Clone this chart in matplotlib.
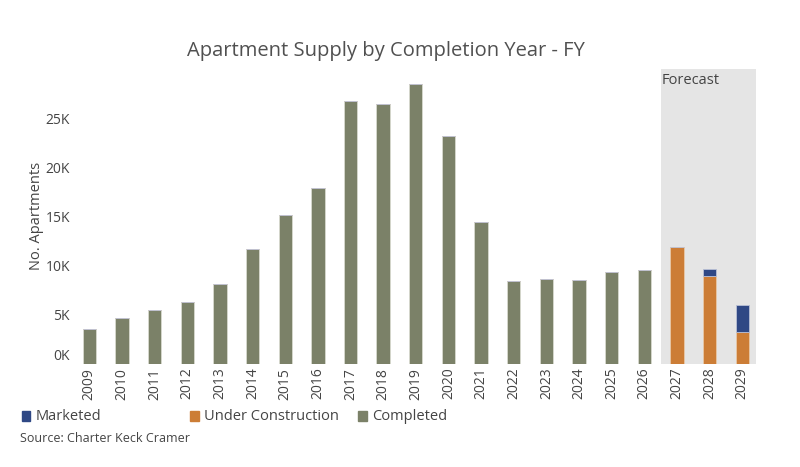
import matplotlib
matplotlib.use("Agg")
import matplotlib.pyplot as plt
import numpy as np

plt.rcParams['font.family'] = ['Open Sans', 'DejaVu Sans']

years = ['2009', '2010', '2011', '2012', '2013', '2014', '2015', '2016', '2017', '2018',
         '2019', '2020', '2021', '2022', '2023', '2024', '2025', '2026', '2027', '2028', '2029']
completed = [3.5, 4.6, 5.5, 6.3, 8.1, 11.7, 15.1, 17.9, 26.7, 26.4,
             28.5, 23.2, 14.4, 8.4, 8.6, 8.5, 9.3, 9.5, 0, 0, 0]
under_construction = [0, 0, 0, 0, 0, 0, 0, 0, 0, 0,
                      0, 0, 0, 0, 0, 0, 0, 0, 11.9, 8.9, 3.2]
marketed = [0, 0, 0, 0, 0, 0, 0, 0, 0, 0,
            0, 0, 0, 0, 0, 0, 0, 0, 0, 0.7, 2.8]
yticks = [0, 5, 10, 15, 20, 25]
ytick_labels = ['0K', '5K', '10K', '15K', '20K', '25K']

GREEN = '#7b8168'
ORANGE = '#cc7d36'
BLUE = '#2f4885'
TXT = '#444444'

fig = plt.figure(figsize=(8, 4.67), dpi=100)
ax = fig.add_axes([0.0945, 0.2216, 0.8505, 0.6304])

x = np.arange(len(years))
w = 0.41
comp = np.array(completed)
uc = np.array(under_construction)
mk = np.array(marketed)

# forecast shading
ax.axvspan(17.5, 20.42, color='#e5e5e5', zorder=0, lw=0)
ax.text(17.53, 29.6, 'Forecast', fontsize=10.5, color=TXT, va='top', ha='left')

ax.bar(x, comp, w, color=GREEN, edgecolor='#d8dacf', lw=0.6, zorder=2)
ax.bar(x, uc, w, bottom=comp, color=ORANGE, edgecolor='#e8c9a8', lw=0.6, zorder=2)
ax.bar(x, mk, w, bottom=comp + uc, color=BLUE, edgecolor='#b9c0d6', lw=0.6, zorder=2)

ax.set_xlim(-0.42, 20.42)
ax.set_ylim(0, 30)
ax.set_xticks(x)
ax.set_xticklabels(years, rotation=90, fontsize=10, color=TXT)
ax.set_yticks(yticks)
ax.set_yticklabels(ytick_labels, fontsize=10, color=TXT)
ax.get_yticklabels()[0].set_va('bottom')
ax.tick_params(length=0, pad=3)
ax.tick_params(axis='y', pad=4)
for s in ax.spines.values():
    s.set_visible(False)
ax.set_ylabel('No. Apartments', fontsize=10.5, color=TXT, labelpad=1)

fig.text(0.483, 0.89, 'Apartment Supply by Completion Year - FY', fontsize=14.5,
         color='#505050', ha='center', va='center')

# legend
legend_items = [('Marketed', BLUE, 0.027), ('Under Construction', ORANGE, 0.238), ('Completed', GREEN, 0.448)]
for label, col, lx in legend_items:
    fig.patches.append(plt.Rectangle((lx, 0.099), 0.011, 0.021, transform=fig.transFigure,
                                     color=col, figure=fig))
    fig.text(lx + 0.0175, 0.108, label, fontsize=10.5, color=TXT, va='center', ha='left')

fig.text(0.025, 0.062, 'Source: Charter Keck Cramer', fontsize=9, color=TXT, va='center', ha='left')

fig.savefig('out.png', dpi=100)
